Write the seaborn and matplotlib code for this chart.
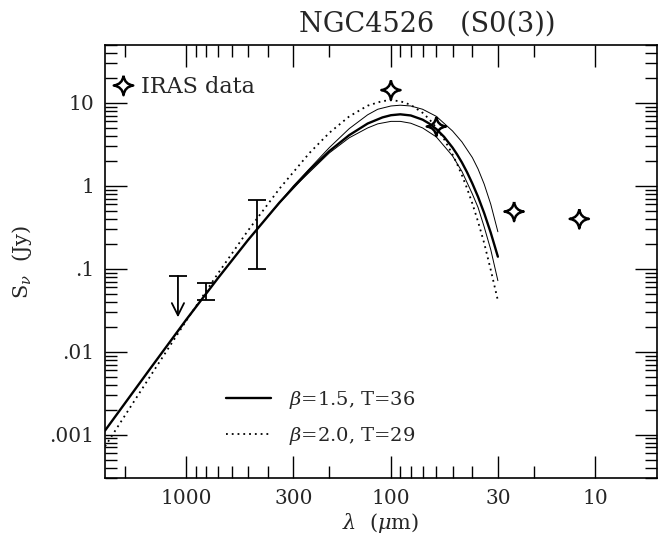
import numpy as np
import pandas as pd
import matplotlib
matplotlib.use("Agg")
import matplotlib.pyplot as plt
from matplotlib.path import Path
from matplotlib.lines import Line2D
from matplotlib.ticker import FixedLocator, FixedFormatter, NullFormatter, LogLocator
import seaborn as sns

# ---- data ----
wave_model = [2500, 1500, 1000, 700, 500, 350, 250, 200, 160, 130, 110, 100, 90, 80,
              70, 65, 60, 55, 50, 47.5, 45, 42.5, 40, 37.5, 35, 32.5, 30]
flux_b15_t36 = [0.00112, 0.0063, 0.0245, 0.0775, 0.222, 0.634, 1.55, 2.63, 4.09, 5.65,
                6.70, 7.12, 7.30, 7.07, 6.29, 5.65, 4.85, 3.91, 2.90, 2.40, 1.92, 1.47,
                1.07, 0.738, 0.469, 0.272, 0.140]
flux_b20_t29 = [0.00072, 0.0051, 0.0238, 0.0883, 0.289, 0.932, 2.50, 4.37, 6.88, 9.28,
                10.56, 10.79, 10.5, 9.49, 7.61, 6.39, 5.05, 3.67, 2.40, 1.84, 1.35, 0.94,
                0.615, 0.370, 0.204, 0.0968, 0.0415]
wave_thin = [400, 300, 200, 160, 130, 116, 100, 90, 80, 70, 60, 50, 45, 40, 37.5, 35, 32.5, 30]
flux_thin_hi = [0.43, 1.0, 2.9, 4.9, 7.2, 8.4, 9.2, 9.4, 9.2, 8.4, 6.9, 4.6, 3.4, 2.2, 1.6,
                1.05, 0.6, 0.28]
flux_thin_lo = [0.43, 0.95, 2.5, 3.8, 5.0, 5.6, 6.0, 6.0, 5.7, 5.0, 3.9, 2.3, 1.5, 0.8, 0.55,
                0.32, 0.17, 0.072]
iras_wave = [100, 60, 25, 12]
iras_flux = [14.3, 5.2, 0.49, 0.40]
submm_wave = [800, 450]
submm_flux = [0.055, 0.39]
submm_err = [0.013, 0.29]
limit_wave = [1100]
limit_flux = [0.082]
limit_tip = [0.026]

xmajor = [1000, 300, 100, 30, 10]
xmajor_labels = ["1000", "300", "100", "30", "10"]
xminor = [2000, 900, 800, 700, 600, 500, 400, 200, 90, 80, 70, 60, 50, 40, 20]
ymajor = [0.001, 0.01, 0.1, 1, 10]
ymajor_labels = [".001", ".01", ".1", "1", "10"]

sns.set_style("ticks")
plt.rcParams["font.family"] = ["DejaVu Serif"]
plt.rcParams["mathtext.fontset"] = "dejavuserif"

fig = plt.figure(figsize=(6.63, 5.36), dpi=100)
ax = fig.add_axes([0.1584, 0.1082, 0.8326, 0.8078])

df_thick = pd.DataFrame({"wave": wave_model, "flux": flux_b15_t36})
df_dot = pd.DataFrame({"wave": wave_model, "flux": flux_b20_t29})
df_hi = pd.DataFrame({"wave": wave_thin, "flux": flux_thin_hi})
df_lo = pd.DataFrame({"wave": wave_thin, "flux": flux_thin_lo})

sns.lineplot(data=df_hi, x="wave", y="flux", ax=ax, color="black", lw=0.7, sort=False)
sns.lineplot(data=df_lo, x="wave", y="flux", ax=ax, color="black", lw=0.7, sort=False)
sns.lineplot(data=df_thick, x="wave", y="flux", ax=ax, color="black", lw=1.7, sort=False)
sns.lineplot(data=df_dot, x="wave", y="flux", ax=ax, color="black", lw=1.3,
             linestyle=(0, (1, 2.2)), sort=False)

# four-point star marker
t = 0.12
star = Path([(0, 1), (t, t), (1, 0), (t, -t), (0, -1), (-t, -t), (-1, 0), (-t, t), (0, 1)],
            [Path.MOVETO, Path.CURVE3, Path.CURVE3, Path.CURVE3, Path.CURVE3,
             Path.CURVE3, Path.CURVE3, Path.CURVE3, Path.CURVE3])

sns.scatterplot(x=iras_wave, y=iras_flux, ax=ax, marker=star, s=190,
                facecolor="none", edgecolor="black", linewidth=1.8, zorder=5)

ax.errorbar(submm_wave, submm_flux, yerr=submm_err, fmt="none", ecolor="black",
            elinewidth=1.3, capsize=6.5, capthick=1.3)
for w, f, tip in zip(limit_wave, limit_flux, limit_tip):
    ax.annotate("", xy=(w, tip), xytext=(w, f),
                arrowprops=dict(arrowstyle="->", lw=1.3, color="black", mutation_scale=22,
                                shrinkA=0, shrinkB=0))
    ax.plot([w], [f], marker="_", ms=13, mew=1.3, color="black")

ax.set_xscale("log")
ax.set_yscale("log")
ax.set_xlim(2500, 5)
ax.set_ylim(3e-4, 50)

ax.xaxis.set_major_locator(FixedLocator(xmajor))
ax.xaxis.set_major_formatter(FixedFormatter(xmajor_labels))
ax.xaxis.set_minor_locator(FixedLocator(xminor))
ax.xaxis.set_minor_formatter(NullFormatter())
ax.yaxis.set_major_locator(FixedLocator(ymajor))
ax.yaxis.set_major_formatter(FixedFormatter(ymajor_labels))
ax.yaxis.set_minor_locator(LogLocator(base=10, subs=np.arange(2, 10), numticks=20))
ax.yaxis.set_minor_formatter(NullFormatter())

ax.tick_params(which="both", direction="in", top=True, right=True, width=1.0, color="black")
ax.tick_params(which="major", length=16, pad=8, labelsize=14.5)
ax.tick_params(which="minor", length=8.5)
for sp in ax.spines.values():
    sp.set_linewidth(1.2)
    sp.set_color("black")

ax.set_xlabel(r"$\lambda$  ($\mu$m)", fontsize=15, labelpad=2)
ax.set_ylabel(r"S$_\nu$  (Jy)", fontsize=15, labelpad=11)

fig.text(0.644, 0.955, "NGC4526   (S0(3))", fontsize=19.5, ha="center", va="center")

iras_handle = Line2D([], [], linestyle="none", marker=star, markersize=14,
                     markerfacecolor="none", markeredgecolor="black", markeredgewidth=1.8)
leg1 = ax.legend([iras_handle], ["IRAS data"], loc="center left", bbox_to_anchor=(0.012, 0.903),
                 frameon=False, fontsize=16, handlelength=1.0, handletextpad=0.3,
                 borderpad=0, borderaxespad=0)
ax.add_artist(leg1)

h_thick = Line2D([], [], color="black", lw=1.7)
h_dot = Line2D([], [], color="black", lw=1.3, linestyle=(0, (1, 2.2)))
ax.legend([h_thick, h_dot], [r"$\beta$=1.5, T=36", r"$\beta$=2.0, T=29"],
          loc="upper left", bbox_to_anchor=(0.22, 0.205), frameon=False, fontsize=14,
          handlelength=2.3, handletextpad=0.9, labelspacing=0.7, borderpad=0, borderaxespad=0)

fig.savefig("out.png", dpi=100)
